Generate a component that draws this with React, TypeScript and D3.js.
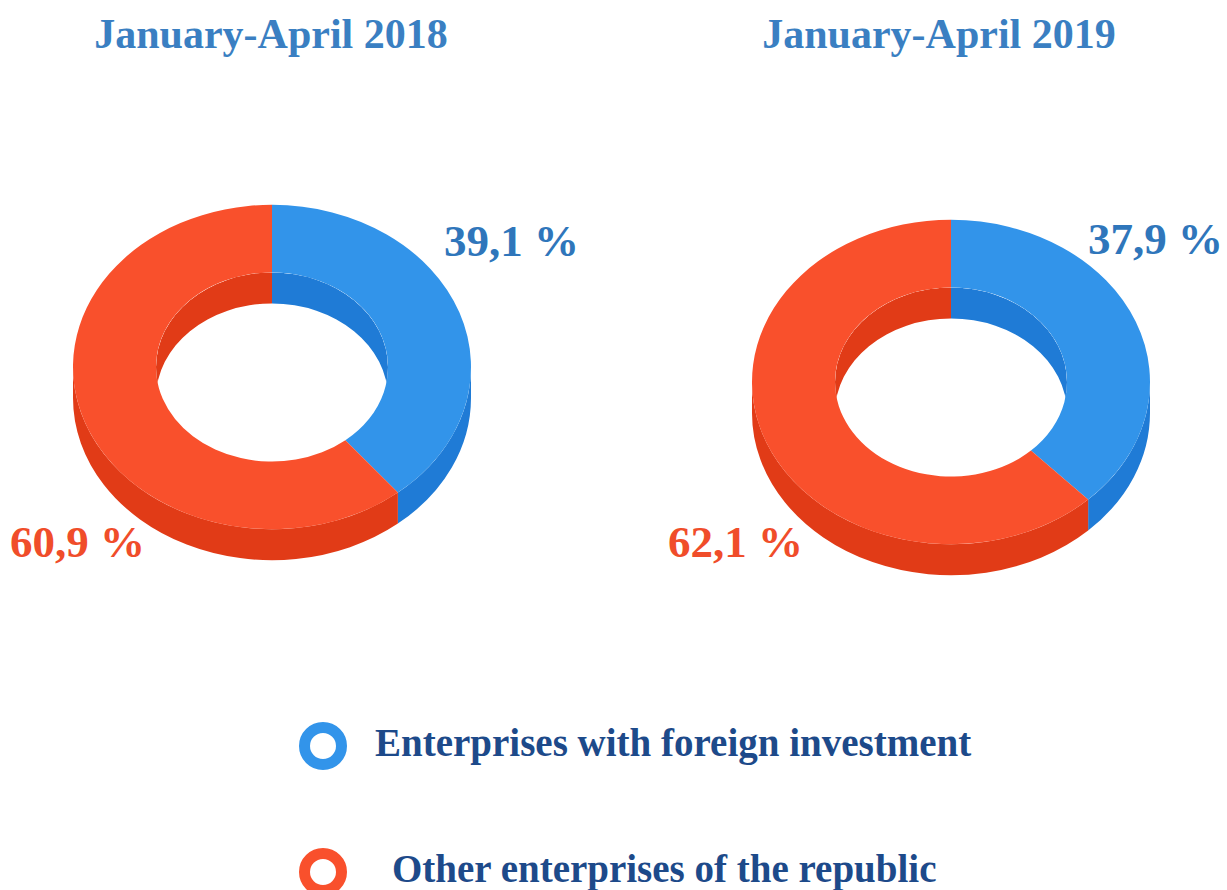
import React, { Component } from "react";
import * as d3 from "d3";

// data
const periods = ["January-April 2018", "January-April 2019"];
const categories = ["Enterprises with foreign investment", "Other enterprises of the republic"];
const shares2018 = [39.1, 60.9];
const shares2019 = [37.9, 62.1];
const seriesValues = [shares2018, shares2019];

const topColors = ["#3294ea", "#f9502c"];
const sideColors = ["#1f7bd6", "#e13b17"];
const labelColors = ["#2f76bb", "#f04d2a"];

export default class App extends Component {
  chartRef: any;
  componentDidMount() {
    const width = 1227;
    const height = 890;
    const svg = d3
      .select(this.chartRef)
      .attr("width", width)
      .attr("height", height)
      .attr("viewBox", `0 0 ${width} ${height}`);

    const font = "'Liberation Serif', 'Times New Roman', serif";
    const R = 199;
    const r = 116;
    const k = 0.815; // tilt
    const depth = 31;
    const ds = depth / k;
    const HALF = Math.PI / 2;

    const layout = [
      { cx: 272, cy: 367, title: [271, 48], labels: [[444, 256], [10, 557]] },
      { cx: 951, cy: 382, title: [939, 48], labels: [[1088, 254], [668, 557]] },
    ];

    const pie = d3.pie<number>().sort(null).value((d) => d);
    const arc = d3.arc<any>().innerRadius(r).outerRadius(R);

    const clipRange = (a: number, b: number, lo: number, hi: number) => {
      const out: [number, number][] = [];
      for (const off of [-2 * Math.PI, 0, 2 * Math.PI]) {
        const s = Math.max(a, lo + off);
        const e = Math.min(b, hi + off);
        if (e > s) out.push([s, e]);
      }
      return out;
    };

    const wallPath = (rad: number, a: number, b: number) => {
      const p = d3.path();
      p.moveTo(rad * Math.sin(a), -rad * Math.cos(a));
      p.arc(0, 0, rad, a - HALF, b - HALF, false);
      p.lineTo(rad * Math.sin(b), -rad * Math.cos(b) + ds);
      p.arc(0, ds, rad, b - HALF, a - HALF, true);
      p.closePath();
      return p.toString();
    };

    seriesValues.forEach((values, ci) => {
      const L = layout[ci];
      const arcs = pie(values);
      const g = svg
        .append("g")
        .attr("transform", `translate(${L.cx},${L.cy}) scale(1,${k})`);

      // outer wall, front half
      arcs.forEach((a, i) => {
        clipRange(a.startAngle, a.endAngle, HALF, 3 * HALF).forEach(([s, e]) => {
          g.append("path").attr("d", wallPath(R, s, e)).attr("fill", sideColors[i]);
        });
      });

      // top face
      g.selectAll(".slice")
        .data(arcs)
        .enter()
        .append("path")
        .attr("d", arc)
        .attr("fill", (d, i) => topColors[i]);

      // inner wall seen through the hole
      const clipId = `hole-${ci}`;
      g.append("clipPath").attr("id", clipId).append("circle").attr("r", r);
      const inner = g.append("g").attr("clip-path", `url(#${clipId})`);
      arcs.forEach((a, i) => {
        clipRange(a.startAngle, a.endAngle, -HALF, HALF).forEach(([s, e]) => {
          inner.append("path").attr("d", wallPath(r, s, e)).attr("fill", sideColors[i]);
        });
      });

      // title
      svg
        .append("text")
        .attr("x", L.title[0])
        .attr("y", L.title[1])
        .attr("text-anchor", "middle")
        .attr("font-family", font)
        .attr("font-weight", "700")
        .attr("font-size", "42px")
        .attr("fill", "#3a7fc2")
        .text(periods[ci]);

      // value labels
      values.forEach((v, i) => {
        svg
          .append("text")
          .attr("x", L.labels[i][0])
          .attr("y", L.labels[i][1])
          .attr("font-family", font)
          .attr("font-weight", "700")
          .attr("font-size", "45px")
          .attr("fill", labelColors[i])
          .text(d3.format(".1f")(v).replace(".", ",") + " %");
      });
    });

    // legend
    const legend = svg.append("g");
    categories.forEach((c, i) => {
      const y = 746 + i * 126;
      legend
        .append("circle")
        .attr("cx", 323)
        .attr("cy", y)
        .attr("r", 18.5)
        .attr("fill", "none")
        .attr("stroke", topColors[i])
        .attr("stroke-width", 11);
      legend
        .append("text")
        .attr("x", i === 0 ? 375 : 392)
        .attr("y", y + 10)
        .attr("font-family", font)
        .attr("font-weight", "700")
        .attr("font-size", "39px")
        .attr("fill", "#1d4a8a")
        .text(c);
    });
  }
  render() {
    return (
      <div style={{ position: "absolute", left: 0, top: 0 }}>
        <svg ref={(el) => (this.chartRef = el)} style={{ display: "block" }}></svg>
      </div>
    );
  }
}
